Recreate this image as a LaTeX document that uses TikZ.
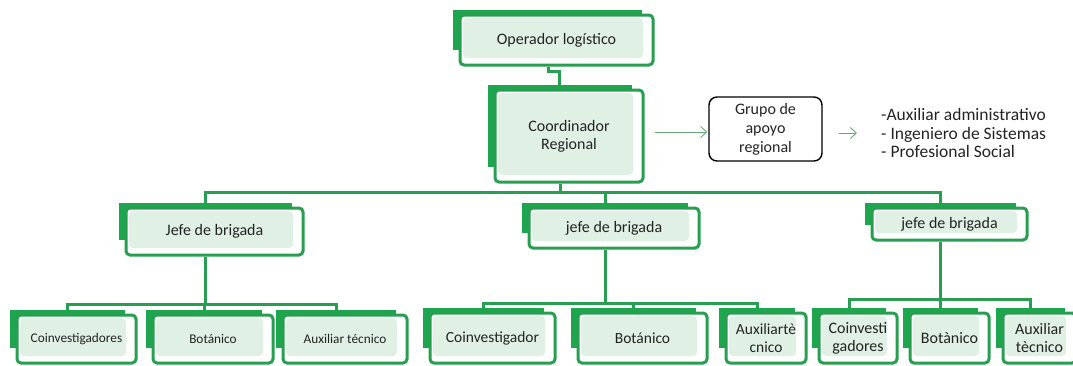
\documentclass[tikz,border=0pt]{standalone}
\usepackage{fontspec}
\setmainfont{Carlito}
\usetikzlibrary{arrows.meta,calc}
\pgfdeclarelayer{bg}\pgfsetlayers{bg,main}
\definecolor{gback}{RGB}{30,166,78}
\definecolor{gline}{RGB}{40,158,80}
\definecolor{lfill}{RGB}{224,240,229}
\definecolor{txt}{RGB}{35,35,35}
\definecolor{garrow}{RGB}{100,168,120}
\tikzset{
  front/.style={draw=gline, line width=3pt, fill=white, rounded corners=4pt,
    inner sep=0pt, align=center, text=txt,
    path picture={\fill[lfill] ([shift={(3pt,-3pt)}]path picture bounding box.north west)
      rectangle ([shift={(-10pt,7pt)}]path picture bounding box.south east);}},
  conn/.style={draw=gline, line width=3pt},
  arr/.style={draw=garrow, line width=0.9pt, -{Straight Barb[length=6pt,width=11pt]}},
  fA/.style={font=\fontsize{16}{18}\selectfont},
  fB/.style={font=\fontsize{13.3}{15}\selectfont},
  fC/.style={font=\fontsize{15.5}{17.5}\selectfont},
  fL/.style={font=\fontsize{17.5}{18.5}\selectfont},
}
\newcommand{\obox}[7]{%
  \fill[gback] ({#2-7},{#3-5}) rectangle ({#4-11},{#5-15});
  \pgfmathsetmacro\bw{#4-#2}\pgfmathsetmacro\bh{#5-#3}%
  \node[front,#6,minimum width=\bw pt,minimum height=\bh pt] (#1) at ({(#2+#4)/2},{(#3+#5)/2}) {#7};
}
\begin{document}
\begin{tikzpicture}[x=1pt,y=-1pt]
\useasboundingbox (0,0) rectangle (1073,365);
% boxes
\obox{op}{460}{15}{653}{65}{fA}{Operador logístico}
\obox{coord}{495}{90}{643}{182}{fA}{Coordinador\\Regional}
\node[draw=black, line width=1.4pt, rounded corners=8pt, fill=white, minimum width=113pt,
  minimum height=64pt, align=center, text=txt, inner sep=0pt,
  font=\fontsize{16}{19}\selectfont] (grupo) at (765.5,129) {Grupo de\\apoyo\\regional};
\node[anchor=west, align=left, text=txt, inner sep=0pt, fL] (list) at (881,133)
  {-Auxiliar administrativo\\- Ingeniero de Sistemas\\- Profesional Social};
\obox{j1}{126}{208}{303}{255}{fA}{Jefe de brigada}
\obox{j2}{529}{208}{699}{248}{fA}{jefe de brigada}
\obox{j3}{872}{208}{1027}{240}{fA}{jefe de brigada}
\obox{b11}{17}{315}{136}{363}{fB}{Coinvestigadores}
\obox{b12}{153}{315}{273}{363}{fB}{Botánico}
\obox{b13}{283}{315}{407}{363}{fB}{Auxiliar técnico}
\obox{b21}{430}{313}{555}{363}{fC}{Coinvestigador}
\obox{b22}{578}{313}{707}{363}{fC}{Botánico}
\obox{b23}{726}{313}{806}{363}{fC}{Auxiliartè\\cnico}
\obox{b31}{819}{313}{897}{363}{fA}{Coinvesti\\gadores}
\obox{b32}{910}{313}{989}{363}{fA}{Botànico}
\obox{b33}{1003}{313}{1076}{363}{fA}{Auxiliar\\tècnico}
% connectors on background layer
\begin{pgfonlayer}{bg}
\draw[conn] ([xshift=-8pt]op.south) -- ++(0,5) -| ([xshift=-10pt]coord.north);
\draw[conn] ([xshift=-9pt]coord.south) -- ++(0,9) coordinate (hub);
\draw[conn] ([xshift=-9pt]j1.north) |- (hub) -| ([xshift=-9pt]j3.north);
\draw[conn] ([xshift=-9pt]j2.north) -- ([xshift=-9pt]j2.north |- hub);
% group 1
\draw[conn] ([xshift=-9pt]j1.south) -- ++(0,48) coordinate (h1);
\draw[conn] ([xshift=-9pt]b11.north) |- (h1) -| ([xshift=-9pt]b13.north);
\draw[conn] ([xshift=-9pt]b12.north) -- ([xshift=-9pt]b12.north |- h1);
% group 2
\draw[conn] ([xshift=-9pt]j2.south) -- ++(0,54) coordinate (h2);
\draw[conn] ([xshift=-9pt]b21.north) |- (h2) -| ([xshift=-9pt]b23.north);
\draw[conn] ([xshift=-9pt]b22.north) -- ([xshift=-9pt]b22.north |- h2);
% group 3
\draw[conn] ([xshift=-9pt]j3.south) -- ++(0,58) coordinate (h3);
\draw[conn] ([xshift=-9pt]b31.north) |- (h3) -| ([xshift=-9pt]b33.north);
\draw[conn] ([xshift=-9pt]b32.north) -- ([xshift=-9pt]b32.north |- h3);
\end{pgfonlayer}
% arrows
\draw[arr] ($(coord.east |- grupo.west)+(10,3)$) -- ($(grupo.west)+(-1,3)$);
\draw[arr] ($(grupo.east |- list.west)+(16,0)$) -- ($(list.west)+(-24,0)$);
\end{tikzpicture}
\end{document}
